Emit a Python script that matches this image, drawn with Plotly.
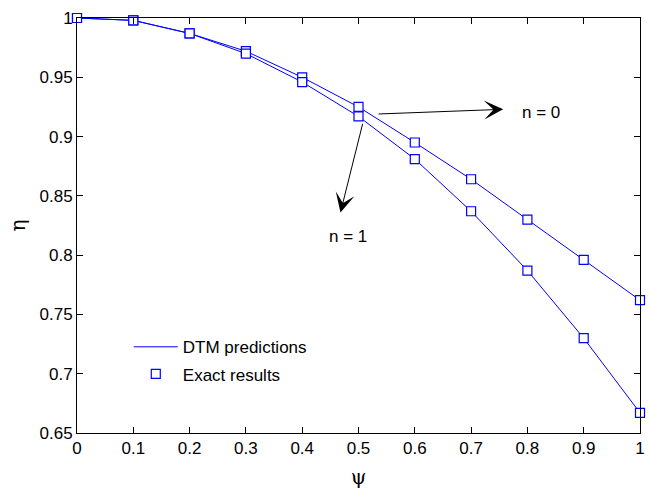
import plotly.graph_objects as go

# Efficiency eta versus psi for two values of n
psi = [0, 0.1, 0.2, 0.3, 0.4, 0.5, 0.6, 0.7, 0.8, 0.9, 1.0]
eta_n0 = [1.0, 0.998, 0.987, 0.972, 0.950, 0.925, 0.895, 0.864, 0.830, 0.796, 0.762]
eta_n1 = [1.0, 0.998, 0.987, 0.970, 0.946, 0.917, 0.881, 0.837, 0.787, 0.730, 0.667]

x_ticks = [0, 0.1, 0.2, 0.3, 0.4, 0.5, 0.6, 0.7, 0.8, 0.9, 1]
x_tick_text = ["0", "0.1", "0.2", "0.3", "0.4", "0.5", "0.6", "0.7", "0.8", "0.9", "1"]
y_ticks = [0.65, 0.7, 0.75, 0.8, 0.85, 0.9, 0.95, 1]
y_tick_text = ["0.65", "0.7", "0.75", "0.8", "0.85", "0.9", "0.95", "1"]

blue = "#0000ff"
font = "Liberation Sans, Arial, sans-serif"
fsize = 17

fig = go.Figure()
for i, eta in enumerate([eta_n0, eta_n1]):
    fig.add_trace(go.Scatter(
        x=psi, y=eta, mode="lines", line=dict(color=blue, width=1),
        name="DTM predictions", legendgroup="dtm", showlegend=(i == 0), cliponaxis=False))
for i, eta in enumerate([eta_n0, eta_n1]):
    fig.add_trace(go.Scatter(
        x=psi, y=eta, mode="markers",
        marker=dict(symbol="square", size=9, color="white", line=dict(width=1.2, color=blue)),
        name="Exact results", legendgroup="exact", showlegend=(i == 0), cliponaxis=False))

arrow = dict(showarrow=True, arrowhead=3, arrowsize=3.2, arrowwidth=1,
             arrowcolor="black", axref="x", ayref="y", xref="x", yref="y", text="")
fig.add_annotation(x=0.757, y=0.923, ax=0.533, ay=0.919, **arrow)
fig.add_annotation(x=0.468, y=0.836, ax=0.508, ay=0.912, **arrow)
fig.add_annotation(x=0.825, y=0.920, text="n = 0", showarrow=False,
                   font=dict(size=fsize, color="black", family=font))
fig.add_annotation(x=0.481, y=0.816, text="n = 1", showarrow=False,
                   font=dict(size=fsize, color="black", family=font))

axis_common = dict(showgrid=False, zeroline=False, showline=True, linecolor="black",
                   linewidth=1, mirror="ticks", ticks="inside", ticklen=6,
                   tickcolor="black", tickfont=dict(size=fsize, color="black", family=font))

fig.update_layout(
    width=650, height=489,
    margin=dict(l=77, r=5, t=18, b=54),
    paper_bgcolor="white", plot_bgcolor="white",
    xaxis=dict(range=[0, 1], tickvals=x_ticks, ticktext=x_tick_text,
               title=dict(text="ψ", font=dict(size=20, color="black", family="DejaVu Serif"), standoff=12),
               **axis_common),
    yaxis=dict(range=[0.65, 1], tickvals=y_ticks, ticktext=y_tick_text,
               title=dict(text="η", font=dict(size=20, color="black", family="DejaVu Serif"), standoff=8),
               **axis_common),
    legend=dict(x=0.092, y=0.250, xanchor="left", yanchor="top", bgcolor="rgba(0,0,0,0)",
                font=dict(size=fsize, color="black", family=font),
                traceorder="grouped", tracegroupgap=2, itemwidth=44),
    showlegend=True,
)

fig.write_html("out.html")
